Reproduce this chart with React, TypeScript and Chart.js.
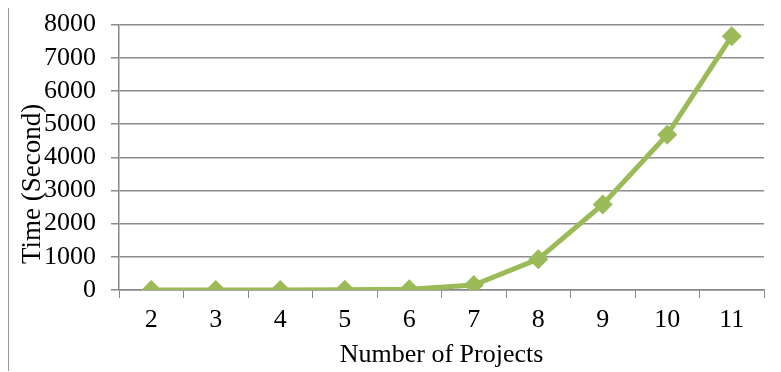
import React, { useEffect, useRef } from "react";
import { Chart, registerables } from "chart.js";

Chart.register(...registerables);

const categories = ["2", "3", "4", "5", "6", "7", "8", "9", "10", "11"];
const timeSeconds = [0, 0, 0, 5, 20, 150, 930, 2580, 4680, 7650];
const yTickValues = [0, 1000, 2000, 3000, 4000, 5000, 6000, 7000, 8000];

const FONT = "'Liberation Serif', 'Times New Roman', serif";
const SHIFT = 14;

const yTitlePlugin = {
  id: "yTitle",
  afterDraw(chart: any) {
    const ctx = chart.ctx;
    ctx.save();
    ctx.translate(24, 176 + SHIFT);
    ctx.rotate(-Math.PI / 2);
    ctx.font = `27px ${FONT}`;
    ctx.fillStyle = "#000";
    ctx.textAlign = "center";
    ctx.textBaseline = "middle";
    ctx.fillText("Time (Second)", 0, 0);
    ctx.restore();
  },
};

export default function App() {
  const ref = useRef<HTMLCanvasElement>(null);
  useEffect(() => {
    const chart = new Chart(ref.current!, {
      type: "line",
      data: {
        labels: categories,
        datasets: [
          {
            data: timeSeconds,
            borderColor: "#9BBB59",
            backgroundColor: "#9BBB59",
            borderWidth: 5,
            pointStyle: "rectRot",
            pointRadius: 10,
            pointBorderWidth: 0,
            pointBackgroundColor: "#9BBB59",
            tension: 0,
          },
        ],
      },
      options: {
        responsive: false,
        animation: false,
        layout: { padding: { top: 0, right: 16, left: 0, bottom: 0 } },
        plugins: { legend: { display: false }, tooltip: { enabled: false } },
        scales: {
          x: {
            offset: true,
            afterFit: (s: any) => {
              s.height = 81;
            },
            grid: {
              offset: true,
              drawOnChartArea: false,
              drawTicks: true,
              tickLength: 8,
              color: "#888",
            },
            border: { color: "#888", width: 1.5 },
            ticks: { color: "#000", font: { family: FONT, size: 26 }, padding: 7 },
            title: {
              display: true,
              text: "Number of Projects",
              color: "#000",
              font: { family: FONT, size: 26 },
              padding: { top: 0, bottom: 0 },
            },
          },
          y: {
            min: 0,
            max: 8000,
            afterFit: (s: any) => {
              s.width = 110;
            },
            afterBuildTicks: (s: any) => {
              s.ticks = yTickValues.map((v) => ({ value: v }));
            },
            grid: { color: "#8c8c8c", lineWidth: 1.5, tickLength: 8 },
            border: { color: "#888", width: 1.5 },
            ticks: {
              color: "#000",
              font: { family: FONT, size: 26 },
              padding: 15,
              autoSkip: false,
              callback: (v: any) => String(v),
            },
          },
        },
      },
      plugins: [yTitlePlugin],
    } as any);
    return () => chart.destroy();
  }, []);
  return (
    <div
      style={{
        width: 771,
        height: 363,
        borderTop: "1px solid #999",
        borderLeft: "1px solid #999",
        borderRight: "1px solid #999",
        marginTop: -1,
      }}
    >
      <canvas
        ref={ref}
        width={771}
        height={363 + SHIFT}
        style={{ display: "block", marginTop: -SHIFT }}
      />
    </div>
  );
}
